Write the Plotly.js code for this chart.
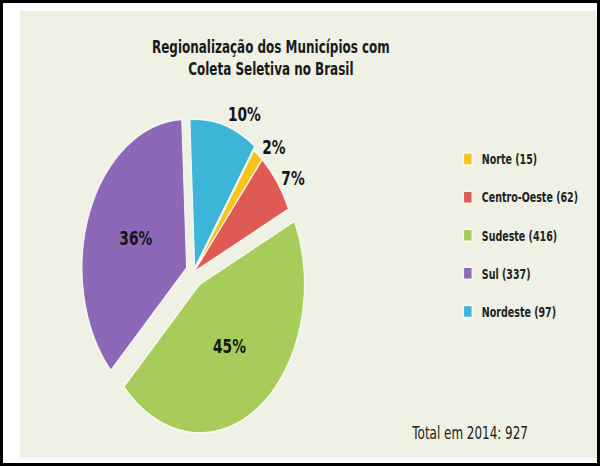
<!DOCTYPE html>
<html><head><meta charset="utf-8">
<script src="https://cdn.plot.ly/plotly-3.0.1.min.js"></script>
<style>
html,body{margin:0;padding:0;background:#fff;}
#frame{position:absolute;left:0;top:0;width:600px;height:466px;box-sizing:border-box;border:3px solid #000;background:#fff;overflow:hidden;}
#chart{position:absolute;left:17px;top:8px;width:819px;height:447px;transform:scaleX(0.7042);transform-origin:0 0;}
</style></head>
<body><div id="frame"><div id="chart"></div></div>
<script>
const regions = ['Norte', 'Centro-Oeste', 'Sudeste', 'Sul', 'Nordeste'];
const municipios = [15, 62, 416, 337, 97];
const sliceColors = ['#f4c51c', '#e05a55', '#a7cc5a', '#8b68b8', '#3db5d8'];
const pulls = [0, 0, 0.1, 0.075, 0.03];
const textPositions = ['outside', 'outside', 'inside', 'inside', 'outside'];
const year = 2014;
const titleText = 'Regionalização dos Municípios com<br>Coleta Seletiva no Brasil';

const total = municipios.reduce((a, b) => a + b, 0);
const legendLabels = regions.map((r, i) => r + ' (' + municipios[i] + ')<br>\u00a0');

const FONT = 'DejaVu Sans, Verdana, sans-serif';

const trace = {
  type: 'pie',
  labels: legendLabels,
  values: municipios,
  sort: false,
  direction: 'clockwise',
  rotation: 35,
  pull: pulls,
  marker: { colors: sliceColors, line: { color: 'rgba(255,255,255,0.85)', width: 1.5 } },
  texttemplate: '%{percent:.0%}',
  textposition: textPositions,
  insidetextorientation: 'horizontal',
  textfont: { family: FONT, size: 19.5, color: '#141414', weight: 'bold' },
  hoverinfo: 'none',
  domain: { x: [0.102, 0.501], y: [0.05, 0.782] }
};

const layout = {
  width: 819, height: 447,
  margin: { l: 0, r: 0, t: 0, b: 0 },
  paper_bgcolor: '#eef1e3',
  plot_bgcolor: '#eef1e3',
  title: {
    text: titleText,
    x: 0.435, xanchor: 'center', xref: 'container',
    y: 0.906, yanchor: 'top', yref: 'container',
    font: { family: FONT, size: 17, weight: 'bold', color: '#1a1a1a' }
  },
  showlegend: true,
  legend: {
    x: 0.752, y: 0.703, xanchor: 'left', yanchor: 'top',
    valign: 'top',
    bgcolor: 'rgba(0,0,0,0)',
    font: { family: FONT, size: 13.5, weight: 'bold', color: '#222' }
  },
  annotations: [{
    text: 'Total em ' + year + ': ' + total,
    x: 0.78, y: 0.056, xref: 'paper', yref: 'paper',
    xanchor: 'center', yanchor: 'middle', showarrow: false,
    font: { family: FONT, size: 17, color: '#222' }
  }]
};

Plotly.newPlot('chart', [trace], layout, { displayModeBar: false, staticPlot: true });
</script>
</body></html>
